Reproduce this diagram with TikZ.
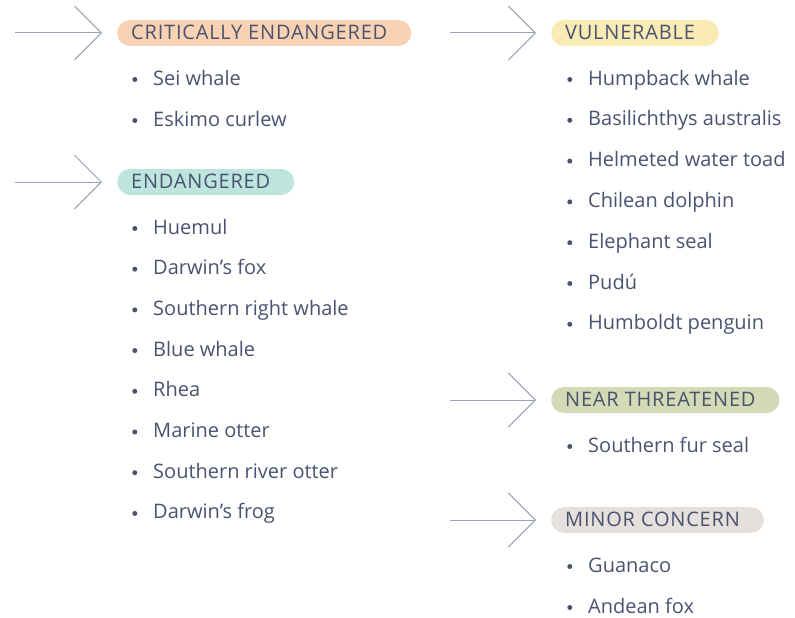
\documentclass[tikz,border=0pt]{standalone}
\usepackage{fontspec}
\setmainfont{Open Sans}
\usetikzlibrary{positioning,arrows.meta}
\definecolor{ink}{HTML}{4A5270}
\definecolor{pointer}{HTML}{9AA3B5}
\definecolor{critical}{HTML}{F8D2B2}
\definecolor{endangered}{HTML}{BDE5DE}
\definecolor{vulnerable}{HTML}{FAEBB5}
\definecolor{nearthreat}{HTML}{D4DAB5}
\definecolor{minor}{HTML}{E6E0DC}

\begin{document}
\begin{tikzpicture}[x=1pt,y=-1pt,font=\fontsize{20}{24}\selectfont,
  badge/.style={anchor=west, text=ink, rounded corners=13pt, minimum height=26pt,
    inner ysep=0pt, inner xsep=14pt, text height=15pt, text depth=2pt,
    font=\fontsize{20}{24}\selectfont\addfontfeatures{LetterSpace=4},
    execute at end node={\hspace{10pt}}},
  species/.style={anchor=base west, text=ink, inner sep=0pt, text height=14pt,
    text depth=3pt,
    label={[circle, fill=ink, inner sep=0pt, minimum size=5pt, text height=0pt,
      text depth=0pt, xshift=-15.5pt]left:{}}},
  pointer/.style={draw=pointer, line width=1pt, shorten >=15pt,
    -{Straight Barb[length=27pt, width=54pt]}}]
  \useasboundingbox (0,0) rectangle (795,618);
  % left column
  \node[badge, fill=critical] (crit) at (117,33) {CRITICALLY ENDANGERED};
  \coordinate (critTail) at (15,33);
  \draw[pointer] (critTail) -- (crit.west);
  \foreach \name [count=\i] in {Sei whale, Eskimo curlew}
    \node[species] (crit-\i) at (153,85+41*\i-41) {\name};
  \node[badge, fill=endangered] (endg) at (117,182) {ENDANGERED};
  \coordinate (endgTail) at (15,182);
  \draw[pointer] (endgTail) -- (endg.west);
  \foreach \name [count=\i] in {Huemul, Darwin's fox, Southern right whale, Blue whale,
      Rhea, Marine otter, Southern river otter, Darwin's frog}
    \node[species] (endg-\i) at (153,234+40.7*\i-40.7) {\name};
  % right column
  \node[badge, fill=vulnerable] (vuln) at (551,33) {VULNERABLE};
  \coordinate (vulnTail) at (450,33);
  \draw[pointer] (vulnTail) -- (vuln.west);
  \foreach \name [count=\i] in {Humpback whale, Basilichthys australis,
      Helmeted water toad, Chilean dolphin, Elephant seal, Pudú, Humboldt penguin}
    \node[species] (vuln-\i) at (588,85+40.8*\i-40.8) {\name};
  \node[badge, fill=nearthreat] (near) at (551,400) {NEAR THREATENED};
  \coordinate (nearTail) at (450,400);
  \draw[pointer] (nearTail) -- (near.west);
  \node[species] (near-1) at (588,452) {Southern fur seal};
  \node[badge, fill=minor] (minr) at (551,520) {MINOR CONCERN};
  \coordinate (minrTail) at (450,520);
  \draw[pointer] (minrTail) -- (minr.west);
  \foreach \name [count=\i] in {Guanaco, Andean fox}
    \node[species] (minr-\i) at (588,572+41*\i-41) {\name};
\end{tikzpicture}
\end{document}
